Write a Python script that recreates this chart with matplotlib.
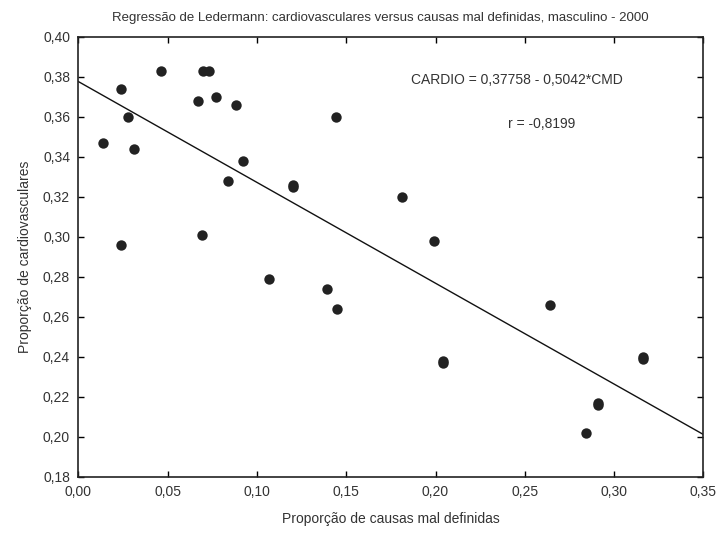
import numpy as np
import matplotlib
matplotlib.use("Agg")
import matplotlib.pyplot as plt
from matplotlib.ticker import FuncFormatter, MultipleLocator

plt.rcParams['font.family'] = ['Liberation Sans', 'DejaVu Sans']

## proporcao de causas mal definidas (CMD)
cmd = [0.046, 0.070, 0.073, 0.024, 0.067, 0.077, 0.088, 0.028, 0.014, 0.031,
       0.092, 0.084, 0.120, 0.120, 0.024, 0.069, 0.144, 0.181, 0.199, 0.107,
       0.139, 0.145, 0.204, 0.204, 0.264, 0.316, 0.316, 0.291, 0.291, 0.284]
## proporcao de cardiovasculares
cardio = [0.383, 0.383, 0.383, 0.374, 0.368, 0.370, 0.366, 0.360, 0.347, 0.344,
          0.338, 0.328, 0.326, 0.325, 0.296, 0.301, 0.360, 0.320, 0.298, 0.279,
          0.274, 0.264, 0.238, 0.237, 0.266, 0.240, 0.239, 0.217, 0.216, 0.202]

## regressao
intercept = 0.37758
slope = -0.5042
r_value = -0.8199

title = "Regressão de Ledermann: cardiovasculares versus causas mal definidas, masculino - 2000"
xlabel = "Proporção de causas mal definidas"
ylabel = "Proporção de cardiovasculares"

text_col = '#333333'

fig = plt.figure(figsize=(7.21, 5.33), dpi=100)
ax = fig.add_axes([0.1087, 0.1056, 0.8669, 0.8255])

ax.scatter(cmd, cardio, s=56, color='#222222', zorder=3, linewidths=0)

xl = np.linspace(0, 0.35, 200)
ax.plot(xl, intercept + slope * xl, color='#111111', lw=1.0)

ax.set_xlim(0, 0.35)
ax.set_ylim(0.18, 0.40)
ax.xaxis.set_major_locator(MultipleLocator(0.05))
ax.yaxis.set_major_locator(MultipleLocator(0.02))
comma = FuncFormatter(lambda v, p: ("%.2f" % v).replace('.', ','))
ax.xaxis.set_major_formatter(comma)
ax.yaxis.set_major_formatter(comma)

ax.tick_params(direction='in', length=4, width=1, top=True, right=True,
               labelsize=10, labelcolor=text_col, pad=6)
for s in ax.spines.values():
    s.set_linewidth(1.2)
    s.set_color('#222222')

ax.set_xlabel(xlabel, fontsize=10, color=text_col, labelpad=9)
ax.set_ylabel(ylabel, fontsize=10, color=text_col, labelpad=8)
fig.text(0.527, 0.966, title, ha='center', va='center', fontsize=9.5, color=text_col)

ax.text(0.2456, 0.3783, "CARDIO = %s - %s*CMD" % (str(intercept).replace('.', ','),
        str(-slope).replace('.', ',')), ha='center', va='center',
        fontsize=10, color=text_col)
ax.text(0.2405, 0.3563, "r = %s" % str(r_value).replace('.', ','), ha='left', va='center',
        fontsize=10, color=text_col)

fig.savefig("out.png", dpi=100)
